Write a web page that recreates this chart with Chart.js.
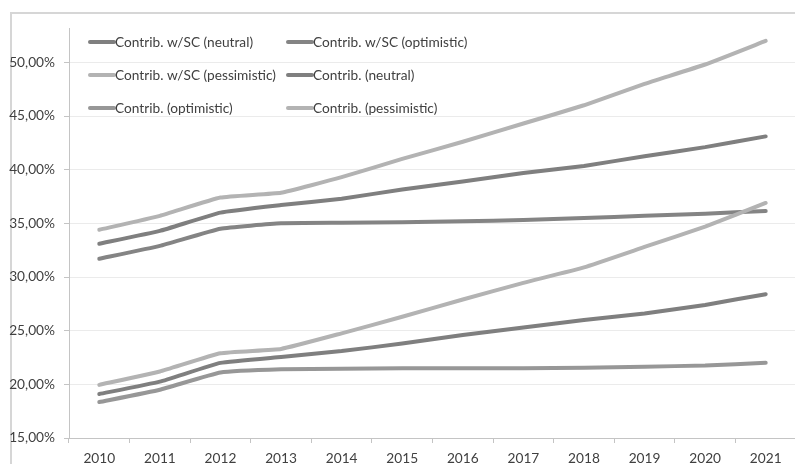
<!DOCTYPE html>
<html>
<head>
<meta charset="utf-8">
<script src="https://cdn.jsdelivr.net/npm/chart.js@4"></script>
<style>
	html, body { margin: 0; padding: 0; background: #fff; overflow: hidden; }
	#wrap { width: 795px; height: 464px; overflow: hidden; position: relative; }
</style>
</head>
<body>
<div id="wrap"><canvas id="cvs" width="800" height="464"></canvas></div>
<script>
var years = ["2010", "2011", "2012", "2013", "2014", "2015", "2016", "2017", "2018", "2019", "2020", "2021"];

var wscNeutral = [33.1, 34.3, 36.0, 36.7, 37.3, 38.15, 38.9, 39.7, 40.35, 41.25, 42.1, 43.1];
var wscOptimistic = [31.7, 32.9, 34.5, 35.0, 35.05, 35.1, 35.2, 35.3, 35.5, 35.7, 35.9, 36.15];
var wscPessimistic = [34.4, 35.7, 37.4, 37.85, 39.3, 41.0, 42.6, 44.3, 46.0, 48.0, 49.8, 52.0];
var cNeutral = [19.1, 20.25, 22.0, 22.55, 23.1, 23.8, 24.6, 25.3, 26.0, 26.6, 27.4, 28.4];
var cOptimistic = [18.35, 19.5, 21.1, 21.4, 21.45, 21.5, 21.5, 21.5, 21.55, 21.65, 21.75, 22.0];
var cPessimistic = [19.95, 21.2, 22.9, 23.3, 24.75, 26.3, 27.9, 29.45, 30.9, 32.8, 34.7, 36.9];

var seriesNames = ["Contrib. w/SC (neutral)", "Contrib. w/SC (optimistic)", "Contrib. w/SC (pessimistic)",
	"Contrib. (neutral)", "Contrib. (optimistic)", "Contrib. (pessimistic)"];
var seriesData = [wscNeutral, wscOptimistic, wscPessimistic, cNeutral, cOptimistic, cPessimistic];
var seriesColors = ["#7f7f7f", "#848484", "#b3b3b3", "#7f7f7f", "#979797", "#b3b3b3"];

var FONT = "Lato, 'Open Sans', sans-serif";
var TEXT = "#404040";

// chart border + white background
var frame = {
	id: "frame",
	beforeDraw(chart) {
		let ctx = chart.ctx;
		ctx.save();
		ctx.fillStyle = "#fff";
		ctx.fillRect(0, 0, chart.width, chart.height);
		ctx.strokeStyle = "#d6d6d6";
		ctx.lineWidth = 2;
		ctx.strokeRect(11, 13, chart.width + 20, chart.height + 20);
		ctx.restore();
	}
};

// legend inside plot, two columns
var insideLegend = {
	id: "insideLegend",
	afterDatasetsDraw(chart) {
		let ctx = chart.ctx;
		let cols = [88, 286];
		let rows = [42, 75, 108];
		ctx.save();
		ctx.font = "13.7px " + FONT;
		ctx.textBaseline = "middle";
		ctx.textAlign = "left";
		chart.data.datasets.forEach(function (ds, i) {
			let x = cols[i % 2];
			let y = rows[Math.floor(i / 2)];
			ctx.strokeStyle = ds.borderColor;
			ctx.lineWidth = 4;
			ctx.lineCap = "round";
			ctx.beginPath();
			ctx.moveTo(x + 2, y);
			ctx.lineTo(x + 26, y);
			ctx.stroke();
			ctx.fillStyle = TEXT;
			ctx.fillText(ds.label, x + 27, y + 1);
		});
		ctx.restore();
	}
};

var datasets = [];
for (let i in seriesNames) {
	datasets.push({
		label: seriesNames[i],
		data: seriesData[i],
		borderColor: seriesColors[i],
		backgroundColor: seriesColors[i],
		borderWidth: 4,
		pointRadius: 0,
		fill: false,
		tension: 0.12,
		borderCapStyle: "round",
		borderJoinStyle: "round",
		order: i == 5 ? 0 : 1
	});
}

var config = {
	type: "line",
	data: {
		labels: years,
		datasets: datasets
	},
	options: {
		responsive: false,
		animation: false,
		layout: {
			padding: { top: 28, right: 4, left: 0, bottom: 0 }
		},
		plugins: {
			legend: false,
			tooltip: { enabled: false }
		},
		scales: {
			x: {
				type: "category",
				offset: true,
				grid: {
					offset: true,
					drawOnChartArea: false,
					drawTicks: true,
					tickLength: 5,
					tickColor: "#c4c4c4"
				},
				border: { color: "#c4c4c4", width: 1 },
				ticks: {
					color: TEXT,
					font: { family: FONT, size: 13.7 },
					padding: 7,
					maxRotation: 0
				},
				afterFit(scale) {
					scale.height = 26;
				}
			},
			y: {
				min: 15,
				max: 53.2,
				grid: {
					color: "#ebebeb",
					tickColor: "#c4c4c4",
					tickLength: 5,
					lineWidth: 1
				},
				border: { color: "#c4c4c4", width: 1 },
				ticks: {
					stepSize: 5,
					includeBounds: false,
					color: TEXT,
					font: { family: FONT, size: 13.7 },
					padding: 9,
					callback: function (v) {
						return v.toFixed(2).replace(".", ",") + "%";
					}
				},
				afterFit(scale) {
					scale.width = 69;
				}
			}
		}
	},
	plugins: [frame, insideLegend]
};

var chart = new Chart("cvs", config);
</script>
</body>
</html>
